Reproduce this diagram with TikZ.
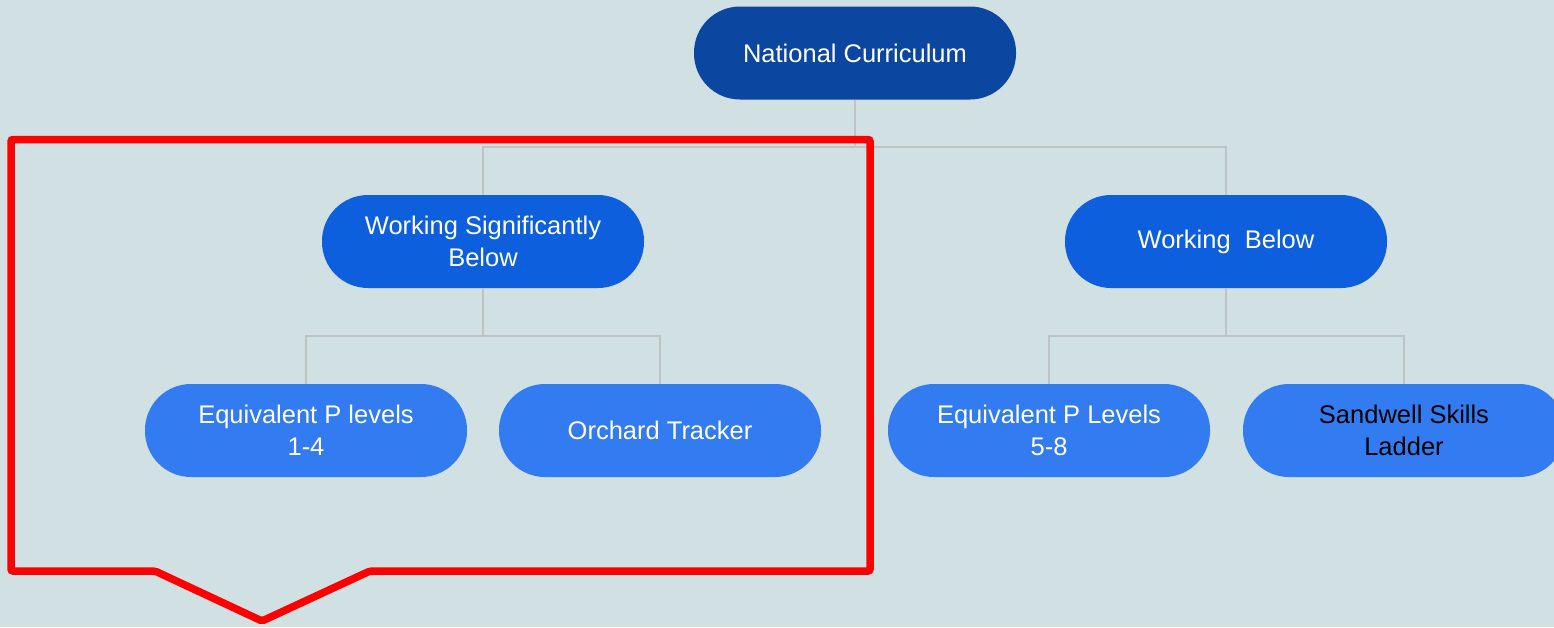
\documentclass[tikz,border=0pt]{standalone}
\usepackage{fontspec}
\setmainfont{Liberation Sans}
\definecolor{bg}{RGB}{208,224,227}
\definecolor{dblue}{RGB}{11,70,160}
\definecolor{mblue}{RGB}{14,95,222}
\definecolor{lblue}{RGB}{50,123,241}
\definecolor{conn}{RGB}{190,196,196}
\definecolor{callred}{RGB}{255,0,0}
\begin{document}
\begin{tikzpicture}[x=1pt,y=-1pt,
  pill/.style={rectangle, rounded corners=46pt, minimum width=322pt, minimum height=93pt,
    inner sep=0pt, align=center, text=white, font=\fontsize{25.5}{31.5}\selectfont},
  top/.style={pill, fill=dblue},
  mid/.style={pill, fill=mblue},
  leaf/.style={pill, fill=lblue},
  conline/.style={draw=conn, line width=2pt},
  callout/.style={draw=callred, line width=7.5pt, rounded corners=2pt, line join=miter}]
\useasboundingbox (0,0) rectangle (1554,627);
\clip (0,0) rectangle (1554,627);
\fill[bg] (0,0) rectangle (1554,627);

\node[top]  (nc)  at (855,53)    {National Curriculum};
\node[mid]  (wsb) at (483,241.5) {Working Significantly\\Below};
\node[mid]  (wb)  at (1226,241.5) {Working\ \ Below};
\node[leaf] (ep1) at (306,430.5) {Equivalent P levels\\1-4};
\node[leaf] (ot)  at (660,430.5) {Orchard Tracker};
\node[leaf] (ep5) at (1049,430.5) {Equivalent P Levels\\5-8};
\node[leaf, text=black] (ssl) at (1404,430.5) {Sandwell Skills\\Ladder};

\coordinate (j1) at (855,147);
\coordinate (j2) at (483,336);
\coordinate (j3) at (1226,336);
\draw[conline] (nc.south) -- (j1) -| (wsb.north);
\draw[conline] (j1) -| (wb.north);
\draw[conline] (wsb.south) -- (j2) -| (ep1.north);
\draw[conline] (j2) -| (ot.north);
\draw[conline] (wb.south) -- (j3) -| (ep5.north);
\draw[conline] (j3) -| (ssl.north);

\draw[callout] (11,139.5) -- (870,139.5) -- (870,571) -- (370,571) -- (262,621) -- (155,571) -- (11,571) -- cycle;
\end{tikzpicture}
\end{document}
